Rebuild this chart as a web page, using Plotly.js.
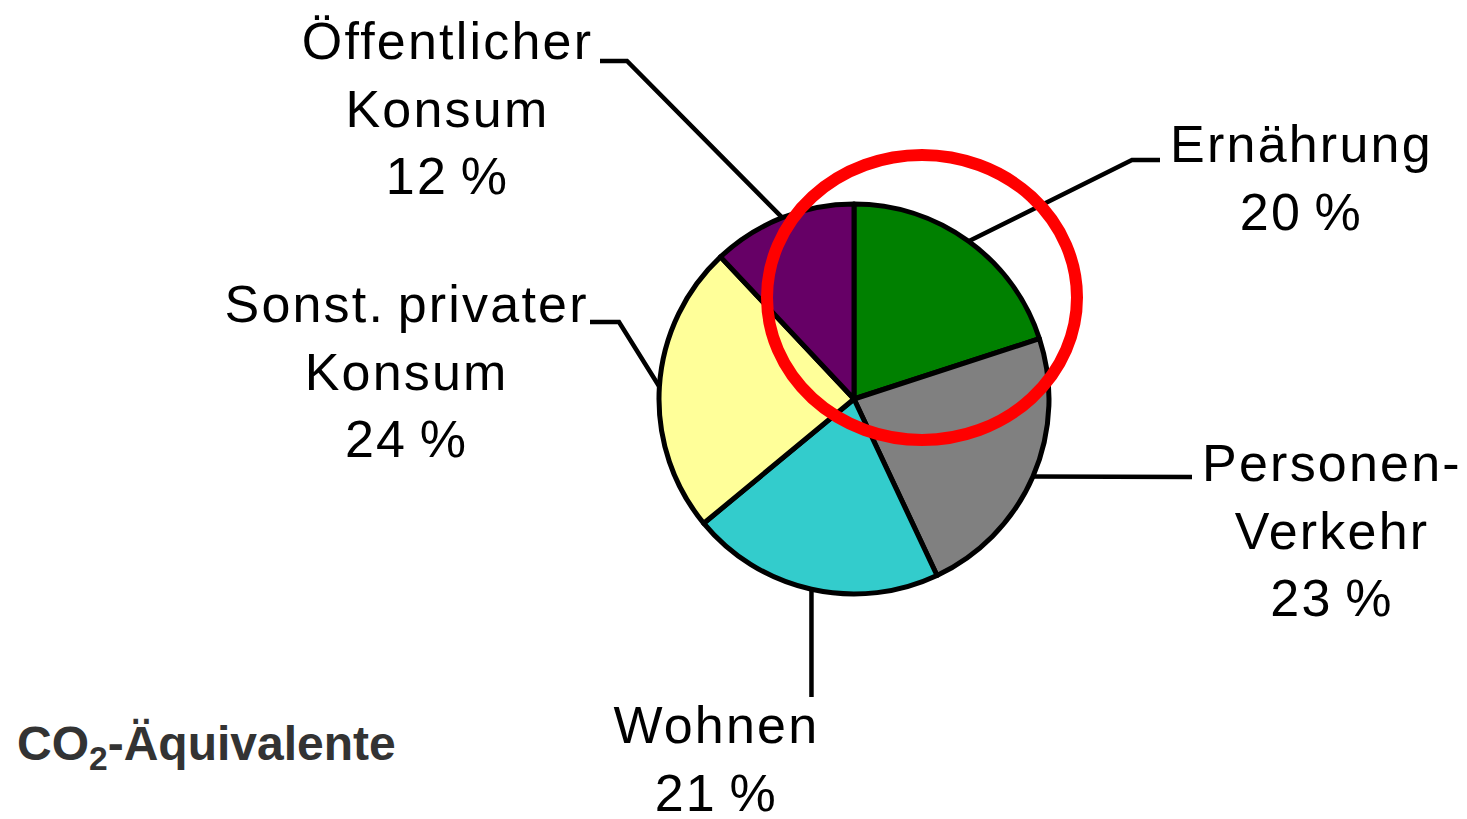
<!DOCTYPE html>
<html>
<head>
<meta charset="utf-8">
<script src="https://cdn.plot.ly/plotly-3.0.1.min.js"></script>
<style>
html,body{margin:0;padding:0;background:#fff;}
#chart{width:1467px;height:819px;}
.annotation:not([data-index="0"]) .annotation-text{letter-spacing:2.2px;}
</style>
</head>
<body>
<div id="chart"></div>
<script>
// ---- data ----
const categories = ["Ernährung", "Personen-Verkehr", "Wohnen", "Sonst. privater Konsum", "Öffentlicher Konsum"];
const labelTexts = ["Ernährung<br>20\u2009%", "Personen-<br>Verkehr<br>23\u2009%", "Wohnen<br>21\u2009%", "Sonst.\u2009privater<br>Konsum<br>24\u2009%", "Öffentlicher<br>Konsum<br>12\u2009%"];
const shares = [20, 23, 21, 24, 12];
const sliceColors = ["#008000", "#808080", "#33CCCC", "#FFFF99", "#660066"];
const footnote = "CO<sub>2</sub>-Äquivalente";

// ---- layout geometry (pixels) ----
const W = 1467, H = 819;
const cx = 854, cy = 399, R = 195;
const px = x => x / W;
const py = y => 1 - y / H;

// label placement: text centre, leader elbow/end
const labelPos = [
  {tx: 1301, ty: 178, pts: [[1132, 160], [1160, 160]]},
  {tx: 1332, ty: 530, pts: [[1192, 477]]},
  {tx: 716, ty: 759, pts: [[null, 697]]},
  {tx: 406, ty: 372, pts: [[619, 322], [590, 322]]},
  {tx: 447, ty: 109, pts: [[627, 61], [600, 61]]}
];

const total = shares.reduce((a, b) => a + b, 0);
let cum = 0;
const shapes = [];
const annotations = [{
  text: footnote, xref: 'paper', yref: 'paper', x: px(15), y: py(747),
  xanchor: 'left', yanchor: 'middle', showarrow: false,
  font: {family: 'Liberation Sans, Arial, sans-serif', size: 48, color: '#333333', weight: 'bold'}
}];

shares.forEach((v, i) => {
  const mid = (cum + v / 2) / total * 2 * Math.PI;
  cum += v;
  const ax = cx + R * Math.sin(mid);
  const ay = cy - R * Math.cos(mid);
  const lp = labelPos[i];
  let d = `M ${px(ax)} ${py(ay)}`;
  lp.pts.forEach(p => {
    const xx = p[0] === null ? ax : p[0];
    d += ` L ${px(xx)} ${py(p[1])}`;
  });
  shapes.push({type: 'path', xref: 'paper', yref: 'paper', path: d,
    line: {color: '#000000', width: 4.5}});
  annotations.push({
    text: labelTexts[i], xref: 'paper', yref: 'paper', x: px(lp.tx), y: py(lp.ty),
    xanchor: 'center', yanchor: 'middle', align: 'center', showarrow: false,
    font: {family: 'Liberation Sans, Arial, sans-serif', size: 52, color: '#000000'}
  });
});

// red highlight ellipse
shapes.push({type: 'circle', xref: 'paper', yref: 'paper',
  x0: px(767), x1: px(1077), y0: py(440), y1: py(155),
  line: {color: '#FF0000', width: 12}, fillcolor: 'rgba(0,0,0,0)'});

const trace = {
  type: 'pie',
  labels: categories,
  values: shares,
  sort: false,
  direction: 'clockwise',
  rotation: 0,
  textinfo: 'none',
  hoverinfo: 'none',
  marker: {colors: sliceColors, line: {color: '#000000', width: 5}},
  domain: {x: [px(cx - R), px(cx + R)], y: [py(cy + R), py(cy - R)]}
};

const layout = {
  width: W, height: H,
  margin: {l: 0, r: 0, t: 0, b: 0},
  paper_bgcolor: '#ffffff',
  showlegend: false,
  hovermode: false,
  shapes: shapes,
  annotations: annotations
};

Plotly.newPlot('chart', [trace], layout, {staticPlot: true, displayModeBar: false});
</script>
</body>
</html>
